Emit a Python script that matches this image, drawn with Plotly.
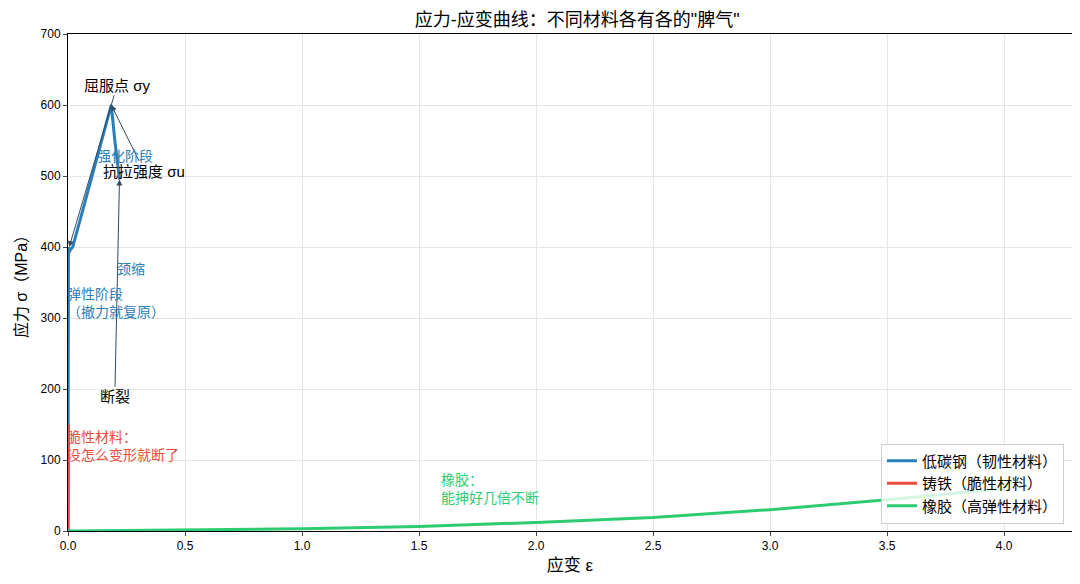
import plotly.graph_objects as go

# 低碳钢
steel_strain = [0, 0.002, 0.004, 0.01, 0.02, 0.06, 0.10, 0.14, 0.185, 0.20, 0.22]
steel_stress = [0, 400, 392, 396, 400, 448, 497, 546, 600, 550, 495]

# 铸铁
iron_strain = [0, 0.0005, 0.001, 0.0015]
iron_stress = [0, 75, 125, 150]

# 橡胶
rubber_strain = [0, 0.5, 1.0, 1.5, 2.0, 2.5, 3.0, 3.5, 4.0]
rubber_stress = [0, 1, 3, 6.5, 12, 19, 30, 44, 60]

x_ticks = [0, 0.5, 1.0, 1.5, 2.0, 2.5, 3.0, 3.5, 4.0]
y_ticks = [0, 100, 200, 300, 400, 500, 600, 700]

BLUE = "#2980b9"
RED = "#e74c3c"
GREEN = "#2ecc71"
FONT = "Liberation Sans, Noto Sans CJK SC, sans-serif"

fig = go.Figure()
fig.add_trace(go.Scatter(x=steel_strain, y=steel_stress, mode="lines",
                         name="低碳钢（韧性材料）", line=dict(color=BLUE, width=3)))
fig.add_trace(go.Scatter(x=iron_strain, y=iron_stress, mode="lines",
                         name="铸铁（脆性材料）", line=dict(color=RED, width=3)))
fig.add_trace(go.Scatter(x=rubber_strain, y=rubber_stress, mode="lines",
                         name="橡胶（高弹性材料）", line=dict(color=GREEN, width=3)))

# arrow annotations (text position -> point)
arrows = [
    ("屈服点 σy", 0.005, 400, 0.21, 628),
    ("抗拉强度 σu", 0.185, 600, 0.325, 507),
    ("断裂", 0.22, 495, 0.20, 189),
]
for text, x, y, ax, ay in arrows:
    fig.add_annotation(x=x, y=y, ax=ax, ay=ay, xref="x", yref="y",
                       axref="x", ayref="y", text=text, showarrow=True,
                       arrowhead=2, arrowsize=1.2, arrowwidth=1,
                       arrowcolor="#34495e",
                       font=dict(size=15, color="black", family=FONT))

# plain text notes
notes = [
    ("强化阶段", 0.245, 528, "center", BLUE),
    ("颈缩", 0.27, 369, "center", BLUE),
    ("弹性阶段<br>（撤力就复原）", 0.0, 321, "left", BLUE),
    ("脆性材料：<br>没怎么变形就断了", 0.0, 120, "left", RED),
    ("橡胶：<br>能抻好几倍不断", 1.585, 59, "left", GREEN),
]
for text, x, y, anchor, color in notes:
    fig.add_annotation(x=x, y=y, xref="x", yref="y", text=text,
                       showarrow=False, xanchor=anchor, align="left",
                       xshift=-3 if x == 0 else 0,
                       font=dict(size=14, color=color, family=FONT))

fig.update_layout(
    width=1080, height=584,
    margin=dict(l=60, r=16, t=26, b=61),
    paper_bgcolor="white", plot_bgcolor="white",
    font=dict(family=FONT, size=12, color="black"),
    title=dict(text='应力-应变曲线：不同材料各有各的"脾气"', x=0.527, xanchor="center",
               y=0.98, yanchor="middle", font=dict(size=18)),
    legend=dict(x=0.992, y=0.015, xanchor="right", yanchor="bottom",
                bgcolor="rgba(255,255,255,0.8)", bordercolor="#cccccc",
                borderwidth=1, font=dict(size=15), tracegroupgap=0),
)
fig.update_xaxes(range=[0, 4.29], tickvals=x_ticks,
                 ticktext=[f"{v:.1f}" for v in x_ticks],
                 showline=True, linecolor="black", linewidth=1, mirror=True,
                 ticks="outside", ticklen=4, showgrid=True, gridcolor="#e6e6e6",
                 zeroline=False, title=dict(text="应变 ε", font=dict(size=17), standoff=6))
fig.update_yaxes(range=[0, 700], tickvals=y_ticks,
                 showline=True, linecolor="black", linewidth=1, mirror=True,
                 ticks="outside", ticklen=4, showgrid=True, gridcolor="#e6e6e6",
                 zeroline=False, title=dict(text="应力 σ（MPa）", font=dict(size=16), standoff=8))

fig.write_html("out.html")
